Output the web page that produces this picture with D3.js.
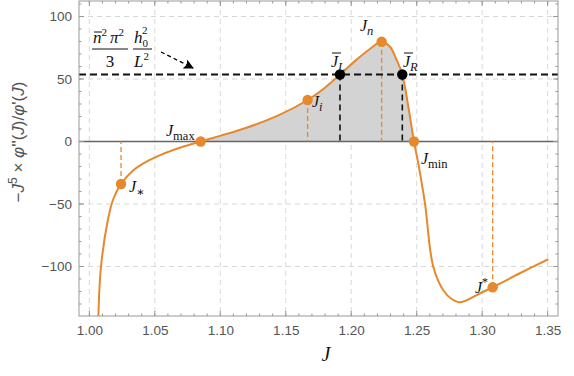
<!DOCTYPE html>
<html>
<head>
<meta charset="utf-8">
<script src="https://cdn.jsdelivr.net/npm/d3@7"></script>
<style>
  body { margin: 0; background: #fff; }
  svg { display: block; }
  .tick text { font-family: "Liberation Sans", Arial, sans-serif; font-size: 13.5px; fill: #555; }
  .math { font-family: "Liberation Serif", "DejaVu Serif", serif; font-style: italic; fill: #111; }
</style>
</head>
<body>
<svg id="chart" width="574" height="376"></svg>
<script>
// curve samples (J, -J^5 phi''/phi')
const jVals   = [1.0069, 1.0089, 1.0143, 1.0183, 1.0242, 1.0336, 1.0430, 1.0550, 1.0692, 1.0850,
                 1.0998, 1.1200, 1.1456, 1.1667, 1.1787, 1.1914, 1.2041, 1.2142, 1.2232, 1.2296,
                 1.2347, 1.2390, 1.2436, 1.2479, 1.2512, 1.2563, 1.2626, 1.2703, 1.2767, 1.2832,
                 1.2985, 1.3080, 1.3288, 1.3505];
const curveVals = [-140, -100, -62, -46, -34, -23, -16.5, -10.5, -5, 0,
                   4.5, 11, 21.5, 33.2, 42, 53.6, 65.5, 74, 79.8, 75.8,
                   65.2, 53.6, 27.8, 0, -17.5, -49.5, -100, -119, -126, -128.6,
                   -121.4, -116.6, -105.4, -94.2];

// marked points
const markJ     = [1.0242, 1.0850, 1.1667, 1.2232, 1.2479, 1.3080];
const markVal   = [-34, 0, 33.2, 79.8, 0, -116.6];
const dropOrange = [1.0242, 1.1667, 1.2232, 1.3080]; // orange dashed drops to zero

const levelVal = 53.6;             // n^2 pi^2 h0^2 / (3 L^2)
const crossJ   = [1.1914, 1.2390]; // J_L bar, J_R bar

const xMajor = [1.00, 1.05, 1.10, 1.15, 1.20, 1.25, 1.30, 1.35];
const yMajor = [-100, -50, 0, 50, 100];

const svg = d3.select("#chart");
const L = 79, R = 558, T = 1, B = 316;
const orange = "#e5892c";

const x = d3.scaleLinear().domain([0.9921, 1.3579]).range([L, R]);
const y = d3.scaleLinear().domain([-139.6, 112.4]).range([B, T]);

const data = jVals.map((j, i) => ({ j: j, v: curveVals[i] }));
const smooth = d3.curveCatmullRom.alpha(0.5);

svg.append("clipPath").attr("id", "clip")
  .append("rect").attr("x", L).attr("y", T).attr("width", R - L).attr("height", B - T);

// grid
const grid = svg.append("g");
grid.selectAll(".gx").data(xMajor).enter().append("line")
  .attr("x1", d => x(d)).attr("x2", d => x(d)).attr("y1", T).attr("y2", B)
  .attr("stroke", "#d8d8d8").attr("stroke-dasharray", "5,4");
grid.selectAll(".gy").data(yMajor.filter(d => d !== 0)).enter().append("line")
  .attr("x1", L).attr("x2", R).attr("y1", d => y(d)).attr("y2", d => y(d))
  .attr("stroke", "#d8d8d8").attr("stroke-dasharray", "5,4");

const plot = svg.append("g").attr("clip-path", "url(#clip)");

// shaded region between J_max and J_min
const i0 = jVals.indexOf(1.0850), i1 = jVals.indexOf(1.2479);
plot.append("path")
  .datum(data.slice(i0, i1 + 1))
  .attr("fill", "#d3d3d3")
  .attr("d", d3.area().x(d => x(d.j)).y0(y(0)).y1(d => y(d.v)).curve(smooth));

// zero line
plot.append("line").attr("x1", L).attr("x2", R).attr("y1", y(0)).attr("y2", y(0))
  .attr("stroke", "#666").attr("stroke-width", 1.6);

// orange drops
plot.selectAll(".drop").data(dropOrange).enter().append("line")
  .attr("x1", d => x(d)).attr("x2", d => x(d))
  .attr("y1", d => y(markVal[markJ.indexOf(d)])).attr("y2", y(0))
  .attr("stroke", orange).attr("stroke-width", 1.3).attr("stroke-dasharray", "5,3");

// black drops + level line
plot.selectAll(".bdrop").data(crossJ).enter().append("line")
  .attr("x1", d => x(d)).attr("x2", d => x(d)).attr("y1", y(levelVal)).attr("y2", y(0))
  .attr("stroke", "#111").attr("stroke-width", 1.6).attr("stroke-dasharray", "6,4");
plot.append("line").attr("x1", L).attr("x2", R).attr("y1", y(levelVal)).attr("y2", y(levelVal))
  .attr("stroke", "#111").attr("stroke-width", 2).attr("stroke-dasharray", "7,4");

// curve
plot.append("path").datum(data)
  .attr("fill", "none").attr("stroke", orange).attr("stroke-width", 2)
  .attr("d", d3.line().x(d => x(d.j)).y(d => y(d.v)).curve(smooth));

// points
plot.selectAll(".mk").data(markJ).enter().append("circle")
  .attr("cx", d => x(d)).attr("cy", (d, i) => y(markVal[i])).attr("r", 5.2).attr("fill", orange);
plot.selectAll(".bk").data(crossJ).enter().append("circle")
  .attr("cx", d => x(d)).attr("cy", y(levelVal)).attr("r", 5.2).attr("fill", "#000");

// frame + ticks (inward, all four sides)
svg.append("rect").attr("x", L).attr("y", T).attr("width", R - L).attr("height", B - T)
  .attr("fill", "none").attr("stroke", "#999");
const xMinor = d3.range(0, 37).map(i => 0.99 + i * 0.01).filter(d => d > 0.9921 && d < 1.3579);
const yMinor = d3.range(-130, 111, 10);
function ticks(vals, len) {
  const g = svg.append("g").attr("stroke", "#999");
  vals.forEach(v => {
    g.append("line").attr("x1", x(v)).attr("x2", x(v)).attr("y1", B).attr("y2", B - len);
    g.append("line").attr("x1", x(v)).attr("x2", x(v)).attr("y1", T).attr("y2", T + len);
  });
}
function yticks(vals, len) {
  const g = svg.append("g").attr("stroke", "#999");
  vals.forEach(v => {
    g.append("line").attr("x1", L).attr("x2", L + len).attr("y1", y(v)).attr("y2", y(v));
    g.append("line").attr("x1", R).attr("x2", R - len).attr("y1", y(v)).attr("y2", y(v));
  });
}
ticks(xMinor, 2.5); ticks(xMajor, 5);
yticks(yMinor, 2.5); yticks(yMajor, 5);

svg.append("g").attr("transform", `translate(0,${B})`)
  .call(d3.axisBottom(x).tickValues(xMajor).tickFormat(d3.format(".2f")).tickSize(0).tickPadding(9))
  .call(g => g.select(".domain").remove());
svg.append("g").attr("transform", `translate(${L},0)`)
  .call(d3.axisLeft(y).tickValues(yMajor).tickFormat(d => d < 0 ? "\u2212" + Math.abs(d) : d).tickSize(0).tickPadding(7))
  .call(g => g.select(".domain").remove());

// axis titles
svg.append("text").attr("class", "math").attr("x", 326).attr("y", 361)
  .attr("text-anchor", "middle").attr("font-size", 20).text("J");
const yl = svg.append("text")
  .attr("transform", "translate(24,142) rotate(-90)")
  .attr("text-anchor", "middle")
  .attr("font-family", "'Liberation Sans', Arial, sans-serif").attr("font-size", 17).attr("fill", "#555");
yl.append("tspan").text("\u2212");
yl.append("tspan").attr("font-style", "italic").text("J");
yl.append("tspan").attr("dy", -7).attr("font-size", 12).text("5");
yl.append("tspan").attr("dy", 7).text(" \u00d7 ");
yl.append("tspan").attr("font-style", "italic").text("\u03c6");
yl.append("tspan").text("''(");
yl.append("tspan").attr("font-style", "italic").text("J");
yl.append("tspan").text(")/");
yl.append("tspan").attr("font-style", "italic").text("\u03c6");
yl.append("tspan").text("'(");
yl.append("tspan").attr("font-style", "italic").text("J");
yl.append("tspan").text(")");

// point labels
function lab(px, py, sub, sup, over) {
  const t = svg.append("text").attr("class", "math").attr("x", px).attr("y", py).attr("font-size", 16);
  t.append("tspan").text("J");
  if (over) svg.append("line").attr("x1", px + 1).attr("x2", px + 10).attr("y1", py - 14).attr("y2", py - 14)
    .attr("stroke", "#111").attr("stroke-width", 1);
  if (sub) t.append("tspan").attr("dy", 4).attr("font-size", 12.5)
    .attr("font-style", sub.length > 1 ? "normal" : "italic").text(sub);
  if (sup) t.append("tspan").attr("dy", -7).attr("font-size", 12).attr("font-style", "normal").text(sup);
}
lab(129, 192, "\u2217");
lab(166, 136, "max");
lab(312, 107, "i");
lab(331, 67, "L", null, true);
lab(360, 31, "n");
lab(403, 67, "R", null, true);
lab(421, 164, "min");
lab(475, 293, null, "*");

// formula n^2 pi^2 / 3 * h0^2 / L^2
const n1 = svg.append("text").attr("x", 93).attr("y", 43).attr("class", "math").attr("font-size", 17);
n1.append("tspan").text("n");
n1.append("tspan").attr("dy", -7).attr("font-size", 11).attr("font-style", "normal").text("2");
n1.append("tspan").attr("dy", 7).attr("dx", 3).text("\u03c0");
n1.append("tspan").attr("dy", -7).attr("font-size", 11).attr("font-style", "normal").text("2");
svg.append("line").attr("x1", 94).attr("x2", 102).attr("y1", 32).attr("y2", 32).attr("stroke", "#111");
svg.append("line").attr("x1", 92).attr("x2", 128).attr("y1", 49).attr("y2", 49).attr("stroke", "#111");
svg.append("text").attr("x", 110).attr("y", 67).attr("text-anchor", "middle")
  .attr("font-family", "'Liberation Serif', serif").attr("font-size", 17).attr("fill", "#111").text("3");
const h = svg.append("text").attr("class", "math").attr("x", 134).attr("y", 43).attr("font-size", 17);
h.append("tspan").text("h");
h.append("tspan").attr("dy", 4).attr("font-size", 11).attr("font-style", "normal").text("0");
h.append("tspan").attr("dy", -13).attr("dx", -6).attr("font-size", 11).attr("font-style", "normal").text("2");
svg.append("line").attr("x1", 133).attr("x2", 152).attr("y1", 49).attr("y2", 49).attr("stroke", "#111");
const l2 = svg.append("text").attr("class", "math").attr("x", 134).attr("y", 67).attr("font-size", 17);
l2.append("tspan").text("L");
l2.append("tspan").attr("dy", -7).attr("font-size", 11).attr("font-style", "normal").text("2");

// dashed arrow
svg.append("defs").append("marker").attr("id", "ah")
  .attr("viewBox", "0 0 10 10").attr("refX", 9).attr("refY", 5)
  .attr("markerWidth", 12).attr("markerHeight", 10).attr("orient", "auto")
  .attr("markerUnits", "userSpaceOnUse")
  .append("path").attr("d", "M0,0 L10,5 L0,10 L2,5 Z").attr("fill", "#000");
svg.append("line").attr("x1", 161).attr("y1", 52).attr("x2", 193).attr("y2", 68)
  .attr("stroke", "#000").attr("stroke-width", 1.3).attr("stroke-dasharray", "4,3")
  .attr("marker-end", "url(#ah)");
</script>
</body>
</html>
